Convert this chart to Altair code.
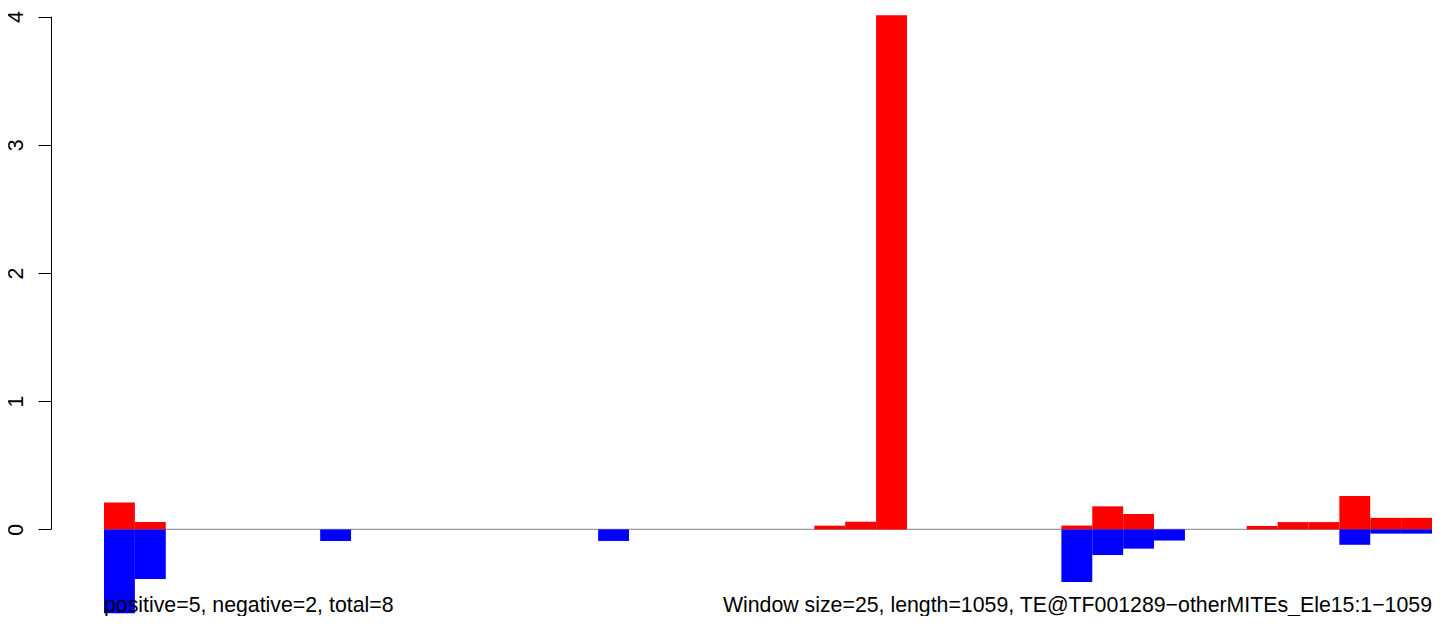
import altair as alt
import pandas as pd

# ---- data ----
window_size = 25
n_windows = 43
pos_index = [0, 1, 23, 24, 25, 31, 32, 33, 37, 38, 39, 40, 41, 42]
pos_value = [0.21, 0.058, 0.029, 0.06, 4.01, 0.03, 0.18, 0.12, 0.027, 0.057, 0.057, 0.26, 0.09, 0.09]
neg_index = [0, 1, 7, 16, 31, 32, 33, 34, 40, 41, 42]
neg_value = [-0.654, -0.386, -0.09, -0.09, -0.41, -0.20, -0.15, -0.087, -0.12, -0.033, -0.033]
y_ticks = [0, 1, 2, 3, 4]
left_label = "positive=5, negative=2, total=8"
right_label = "Window size=25, length=1059, TE@TF001289\u2212otherMITEs_Ele15:1\u22121059"

pos_df = pd.DataFrame({
    "start": [i * window_size for i in pos_index],
    "end": [(i + 1) * window_size for i in pos_index],
    "v": pos_value,
    "base": [0.0] * len(pos_index),
})
neg_df = pd.DataFrame({
    "start": [i * window_size for i in neg_index],
    "end": [(i + 1) * window_size for i in neg_index],
    "v": neg_value,
    "base": [0.0] * len(neg_index),
})

W, H = 1328, 608
FONT = "Liberation Sans"
FS = 21.3
x_scale = alt.Scale(domain=[0, n_windows * window_size], nice=False, zero=False)
y_scale = alt.Scale(domain=[-0.6755, 4.067], nice=False, zero=False)

zero_line = alt.Chart(pd.DataFrame({"y": [0.0]})).mark_rule(
    color="#999999", strokeWidth=1.2
).encode(
    y=alt.Y("y:Q", scale=y_scale,
            axis=alt.Axis(values=y_ticks, format="d", offset=53, domain=False, grid=False,
                          tickSize=13, tickColor="black", tickWidth=1,
                          labelFont=FONT, labelFontSize=FS, labelColor="black",
                          labelAngle=270, labelAlign="center",
                          labelBaseline="alphabetic", labelPadding=16,
                          labelOverlap=False, labelBound=False, labelFlush=False,
                          title=None)),
    x=alt.value(0), x2=alt.value(W),
)

axis_line = alt.Chart(pd.DataFrame({"y": [0], "y2": [4]})).mark_rule(
    color="black", strokeWidth=1
).encode(
    x=alt.value(-52.5),
    y=alt.Y("y:Q", scale=y_scale),
    y2="y2:Q",
)

pos_bars = alt.Chart(pos_df).mark_rect(color="#FF0000").encode(
    x=alt.X("start:Q", scale=x_scale, axis=None),
    x2="end:Q",
    y=alt.Y("v:Q", scale=y_scale),
    y2="base:Q",
)

neg_bars = alt.Chart(neg_df).mark_rect(color="#0000FF").encode(
    x=alt.X("start:Q", scale=x_scale, axis=None),
    x2="end:Q",
    y=alt.Y("v:Q", scale=y_scale),
    y2="base:Q",
)

left_text = alt.Chart(pd.DataFrame({"t": [left_label]})).mark_text(
    align="left", baseline="alphabetic", font=FONT, fontSize=FS, color="black"
).encode(x=alt.value(0), y=alt.value(604), text="t:N")

right_text = alt.Chart(pd.DataFrame({"t": [right_label]})).mark_text(
    align="right", baseline="alphabetic", font=FONT, fontSize=FS, color="black"
).encode(x=alt.value(W), y=alt.value(604), text="t:N")

chart = alt.layer(
    zero_line, axis_line, pos_bars, neg_bars, left_text, right_text
).properties(
    width=W, height=H,
    autosize=alt.AutoSizeParams(type="none"),
    padding={"left": 96, "top": 0, "right": 4, "bottom": 0},
    background="white",
).configure_view(stroke=None)

chart.save("out.html", embed_options={"renderer": "svg", "actions": False})
